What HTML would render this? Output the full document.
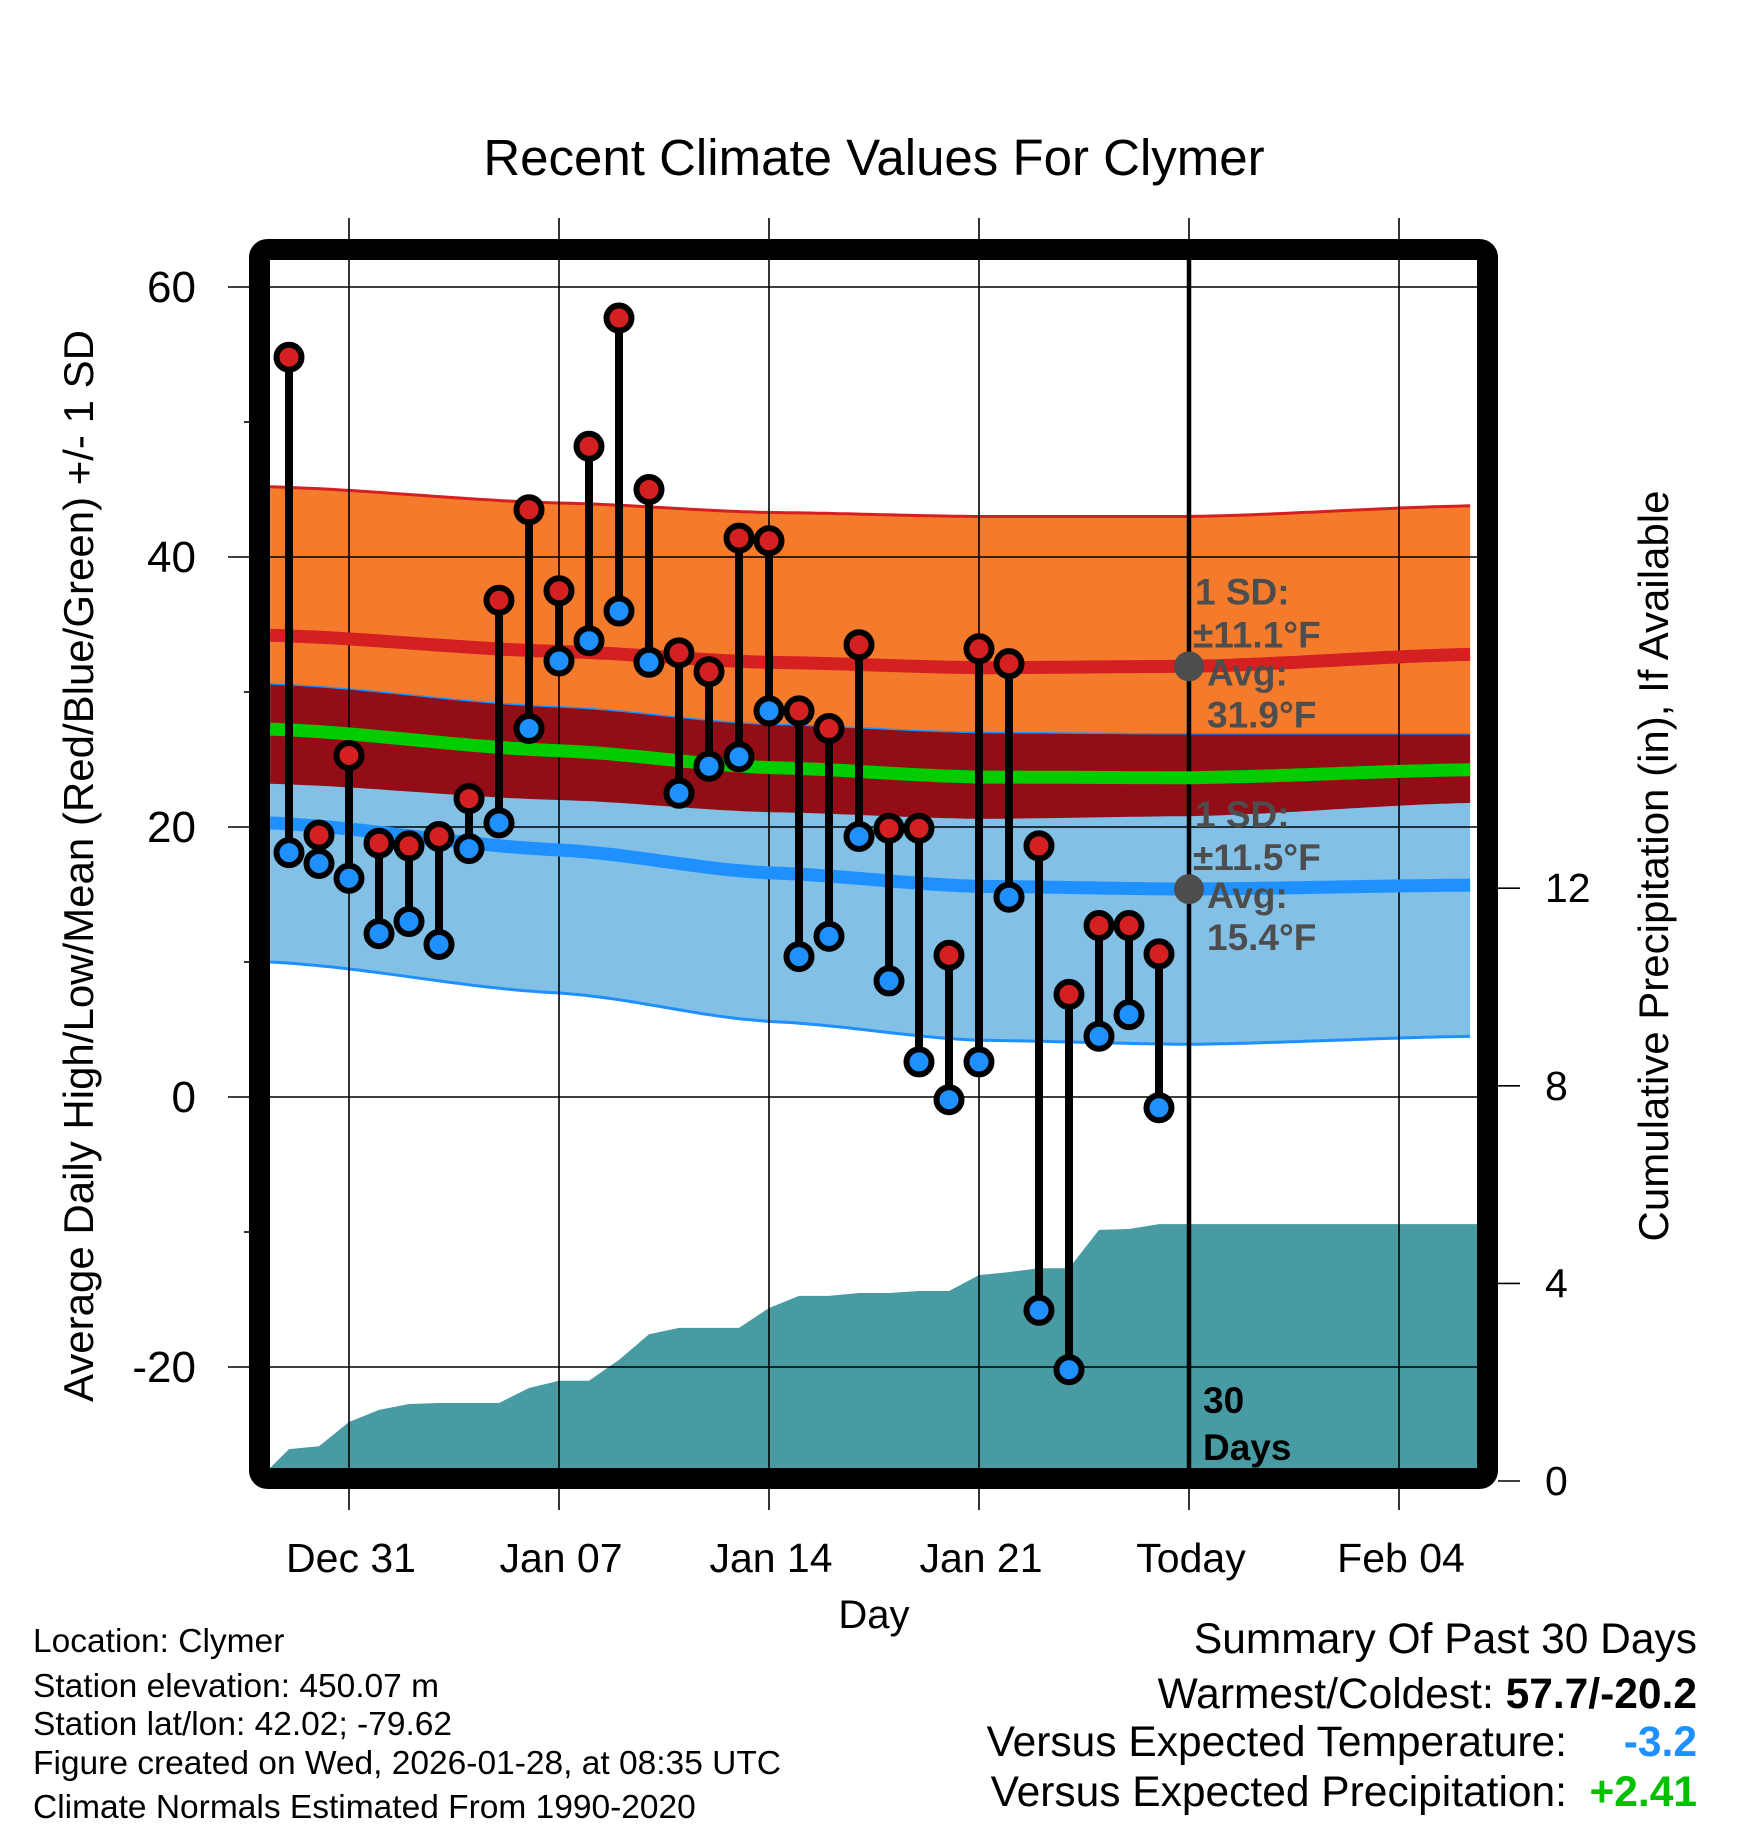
<!DOCTYPE html>
<html><head><meta charset="utf-8"><style>
html,body{margin:0;padding:0;background:#fff}
svg{display:block;font-family:"Liberation Sans",Arial,sans-serif}
</style></head><body>
<svg id="chart" width="1748" height="1828" viewBox="0 0 1748 1828" xmlns="http://www.w3.org/2000/svg">
<text x="874" y="175" font-size="51" text-anchor="middle">Recent Climate Values For Clymer</text>
<g id="bands"></g>
<g id="precip"></g>
<g id="grid"></g>
<g id="normals"></g>
<g id="marks"></g>
<g id="annot"></g>
<rect x="259.5" y="249.5" width="1228" height="1229" rx="8" fill="none" stroke="#000" stroke-width="21"/>
<g id="axes"></g>
<text transform="translate(93,866) rotate(-90)" font-size="42" text-anchor="middle">Average Daily High/Low/Mean (Red/Blue/Green) +/- 1 SD</text>
<text transform="translate(1668,866) rotate(-90)" font-size="42" text-anchor="middle">Cumulative Precipitation (in), If Available</text>
<text x="874" y="1628" font-size="40" text-anchor="middle">Day</text>
<g font-size="33.5">
<text x="33" y="1652">Location: Clymer</text>
<text x="33" y="1697">Station elevation: 450.07 m</text>
<text x="33" y="1735">Station lat/lon: 42.02; -79.62</text>
<text x="33" y="1774">Figure created on Wed, 2026-01-28, at 08:35 UTC</text>
<text x="33" y="1818">Climate Normals Estimated From 1990-2020</text>
</g>
<g font-size="42.5" text-anchor="end">
<text x="1697" y="1653">Summary Of Past 30 Days</text>
<text x="1697" y="1708">Warmest/Coldest: <tspan font-weight="bold">57.7/-20.2</tspan></text>
<text x="1567" y="1756">Versus Expected Temperature:</text>
<text x="1697" y="1756" fill="#1e90ff" font-weight="bold">-3.2</text>
<text x="1567" y="1806">Versus Expected Precipitation:</text>
<text x="1697" y="1806" fill="#00c000" font-weight="bold">+2.41</text>
</g>
</svg>
<script>
const highs=[54.8,19.4,25.3,18.8,18.6,19.3,22.1,36.8,43.5,37.5,48.2,57.7,45.0,32.9,31.5,41.4,41.2,28.6,27.3,33.5,19.9,19.9,10.5,33.2,32.1,18.6,7.6,12.7,12.7,10.6];
const lows=[18.1,17.3,16.2,12.1,13.0,11.3,18.4,20.3,27.3,32.3,33.8,36.0,32.2,22.5,24.5,25.2,28.6,10.4,11.9,19.3,8.6,2.6,-0.2,2.6,14.8,-15.8,-20.2,4.5,6.1,-0.8];
const precip=[0.645,0.704,1.195,1.44,1.558,1.578,1.578,1.578,1.882,2.03,2.03,2.451,2.97,3.099,3.099,3.099,3.502,3.747,3.747,3.806,3.806,3.846,3.846,4.169,4.228,4.307,4.307,5.083,5.102,5.2];
const normDays=[-2.63,7,14,21,28,37.6];
const normHigh=[34.2,33.0,32.2,31.8,31.9,32.8];
const normLow=[20.3,18.3,16.6,15.6,15.4,15.7];
const sdHigh=[11.0,11.0,11.1,11.2,11.1,11.0];
const sdLow=[10.3,10.6,11.0,11.4,11.5,11.2];
const yTicks=[-20,0,20,40,60];
const pTicks=[0,4,8,12];
const xTickDays=[0,7,14,21,28,35];
const xTickLabels=["Dec 31","Jan 07","Jan 14","Jan 21","Today","Feb 04"];
const firstDay=-2;
const NS="http://www.w3.org/2000/svg";
const X=d=>349+d*30;
const Y=v=>287+(60-v)*13.5;
const YP=p=>1481-p*49.4;
const L=270,R=1478,T=260,B=1468;
function mk(parent,tag,attrs){const e=document.createElementNS(NS,tag);for(const k in attrs)e.setAttribute(k,attrs[k]);document.getElementById(parent).appendChild(e);return e;}
function interp(arr,d){for(let i=0;i<normDays.length-1;i++){if(d<=normDays[i+1]){const t=(d-normDays[i])/(normDays[i+1]-normDays[i]);const s=(1-Math.cos(Math.PI*t))/2;return arr[i]+(arr[i+1]-arr[i])*(0.5*t+0.5*s);}}return arr[arr.length-1];}
const samp=[];for(let d=normDays[0];d<=normDays[5]+0.001;d+=0.25)samp.push(d);
function curve(fn){return samp.map(d=>[X(d),Y(fn(d))]);}
function band(upper,lower,fill,name){const up=curve(upper),lo=curve(lower).reverse();const p=mk('bands','path',{d:'M'+up.concat(lo).map(q=>q[0].toFixed(1)+','+q[1].toFixed(1)).join('L')+'Z',fill:fill});}
function line(fn,col,w,name,g){const p=mk(g,'path',{d:'M'+curve(fn).map(q=>q[0].toFixed(1)+','+q[1].toFixed(1)).join('L'),fill:'none',stroke:col,'stroke-width':w});}
const hi=d=>interp(normHigh,d),lo=d=>interp(normLow,d),sh=d=>interp(sdHigh,d),sl=d=>interp(sdLow,d);
band(d=>hi(d)+sh(d),d=>hi(d)-sh(d),'#f47b2c','high-sd-band');
band(d=>lo(d)+sl(d),d=>lo(d)-sl(d),'#82c0e6','low-sd-band');
band(d=>lo(d)+sl(d),d=>hi(d)-sh(d),'#920d15','overlap-band');
line(d=>hi(d)+sh(d),'#d42020',3,'high-sd-upper-edge','bands');
line(d=>lo(d)-sl(d),'#1e90ff',3,'low-sd-lower-edge','bands');
line(d=>lo(d)+sl(d),'#1e90ff',1.5,'low-sd-upper-edge','bands');
{let pts=[[L,B]];precip.forEach((v,i)=>pts.push([X(firstDay+i),YP(v)]));pts.push([R,YP(precip[precip.length-1])]);pts.push([R,B]);
const p=mk('precip','path',{d:'M'+pts.map(q=>q[0].toFixed(1)+','+q[1].toFixed(1)).join('L')+'Z',fill:'#489ba3'});
}
yTicks.forEach(v=>{const l=mk('grid','line',{x1:228,x2:R,y1:Y(v),y2:Y(v),stroke:'#000','stroke-width':1.6});});
[-10,10,30,50].forEach(v=>{const l=mk('grid','line',{x1:244,x2:260,y1:Y(v),y2:Y(v),stroke:'#000','stroke-width':1.6});});
xTickDays.forEach((d,i)=>{const l=mk('grid','line',{x1:X(d),x2:X(d),y1:218,y2:1510,stroke:'#000','stroke-width':i===4?4.5:1.6});if(i===4){l.setAttribute('y1',T);l.setAttribute('y2',B);}});
xTickDays.forEach((d,i)=>{if(i===4){const l=mk('grid','line',{x1:X(d),x2:X(d),y1:218,y2:1510,stroke:'#000','stroke-width':1.6});}});
line(hi,'#d42020',13,'normal-high-line','normals');
line(lo,'#1e90ff',13,'normal-low-line','normals');
line(d=>(hi(d)+lo(d))/2,'#00cc00',13,'normal-mean-line','normals');
highs.forEach((h,i)=>{const x=X(firstDay+i);const s=mk('marks','line',{x1:x,x2:x,y1:Y(h),y2:Y(lows[i]),stroke:'#000','stroke-width':8});});
highs.forEach((h,i)=>{const x=X(firstDay+i);
const c1=mk('marks','circle',{cx:x,cy:Y(h),r:12.5,fill:'#d42020',stroke:'#000','stroke-width':6});
const c2=mk('marks','circle',{cx:x,cy:Y(lows[i]),r:12.5,fill:'#1e90ff',stroke:'#000','stroke-width':6});});
function txt(g,x,y,s,attrs,name){const t=mk(g,'text',Object.assign({x:x,y:y},attrs||{}));t.textContent=s;return t;}
const ac={fill:'#4d4d4d','font-size':37,'font-weight':'bold'};
[[31.9,'±11.1°F','31.9°F'],[15.4,'±11.5°F','15.4°F']].forEach(a=>{const cy=Y(a[0]);
const c=mk('annot','circle',{cx:1189,cy:cy,r:15,fill:'#4d4d4d'});
txt('annot',1195,cy-62,'1 SD:',ac,'sd-label');txt('annot',1193,cy-19,a[1],ac,'sd-value');txt('annot',1207,cy+19,'Avg:',ac,'avg-label');txt('annot',1207,cy+61,a[2],ac,'avg-value');});
txt('annot',1203,1413,'30',{'font-size':37,'font-weight':'bold'},'days-label');
txt('annot',1203,1460,'Days',{'font-size':37,'font-weight':'bold'},'days-label');
yTicks.forEach(v=>txt('axes',196,Y(v)+15,String(v),{'font-size':44,'text-anchor':'end'},'y-tick-label'));
pTicks.forEach(p=>{const l=mk('axes','line',{x1:1498,x2:1520,y1:YP(p),y2:YP(p),stroke:'#000','stroke-width':1.6});
txt('axes',1545,YP(p)+14,String(p),{'font-size':41},'y2-tick-label');});
xTickDays.forEach((d,i)=>txt('axes',X(d)+2,1572,xTickLabels[i],{'font-size':41,'text-anchor':'middle'},'x-tick-label'));
</script>
</body></html>
